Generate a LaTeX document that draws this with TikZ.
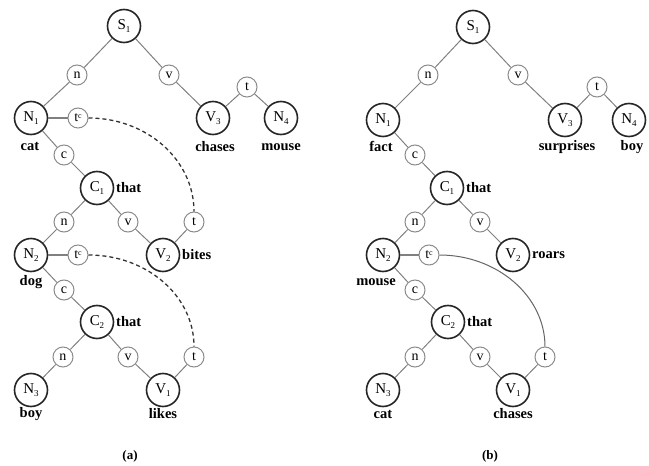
\documentclass[tikz,border=0pt]{standalone}
\usepackage{fontspec}
\setmainfont{Liberation Serif}
\newcommand{\nsub}[2]{#1\kern-0.3pt\raisebox{-0.45ex}{\fontsize{9}{9}\selectfont #2}}
\newcommand{\tcx}{t\raisebox{0.55ex}{\fontsize{8}{8}\selectfont c}}
\begin{document}
\begin{tikzpicture}[x=1pt,y=-1pt,
  big/.style={circle, draw=black!85, line width=1.6pt, minimum size=33pt, inner sep=0pt, font=\fontsize{15}{15}\selectfont},
  sm/.style={circle, draw=black!45, line width=1pt, minimum size=20pt, inner sep=0pt, font=\fontsize{14}{14}\selectfont},
  ed/.style={draw=black!50, line width=1pt},
  dbl/.style={draw=black!50, line width=1.5pt},
  dsh/.style={draw=black!80, line width=1.3pt, dash pattern=on 4pt off 3pt},
  word/.style={inner sep=0pt, font=\fontsize{14.5}{14.5}\selectfont\bfseries},
  captxt/.style={inner sep=0pt, font=\fontsize{13}{13}\selectfont\bfseries}]
\useasboundingbox (0,0) rectangle (649,466);
% ---------------- panel (a)
\node[big] (aS1) at (124,26) {\nsub{S}{1}};
\node[sm] (an1) at (77,75) {n};
\node[sm] (av1) at (169,75) {v};
\node[big] (aN1) at (31,118) {\nsub{N}{1}};
\node[sm] (atc1) at (78,118) {\tcx};
\node[big] (aV3) at (213,118) {\nsub{V}{3}};
\node[sm] (at0) at (247,87) {t};
\node[big] (aN4) at (281,118) {\nsub{N}{4}};
\node[sm] (ac1) at (64,155) {c};
\node[big] (aC1) at (97,188) {\nsub{C}{1}};
\node[word, anchor=west] (athat1) at (116,188) {that};
\node[sm] (an2) at (64,222) {n};
\node[sm] (av2) at (128,222) {v};
\node[sm] (at2) at (194,222) {t};
\node[big] (aN2) at (31,255) {\nsub{N}{2}};
\node[sm] (atc2) at (78,255) {\tcx};
\node[big] (aV2) at (163,255) {\nsub{V}{2}};
\node[word, anchor=west] (abites) at (182,255) {bites};
\node[sm] (ac2) at (64,290) {c};
\node[big] (aC2) at (97,322) {\nsub{C}{2}};
\node[word, anchor=west] (athat2) at (116,322) {that};
\node[sm] (an3) at (63,357) {n};
\node[sm] (av3) at (128,357) {v};
\node[sm] (at3) at (194,357) {t};
\node[big] (aN3) at (31,390) {\nsub{N}{3}};
\node[big] (aV1) at (163,390) {\nsub{V}{1}};
\node[word] (acat) at (30,146) {cat};
\node[word] (achases) at (215,147) {chases};
\node[word] (amouse) at (281,147) {mouse};
\node[word] (adog) at (31,282) {dog};
\node[word] (aboy) at (31,414) {boy};
\node[word] (alikes) at (163,414) {likes};
\node[captxt] (acap) at (130,456) {(a)};
\draw[ed] (aS1) -- (an1) -- (aN1);
\draw[ed] (aS1) -- (av1) -- (aV3);
\draw[ed] (aV3) -- (at0) -- (aN4);
\draw[dbl] (aN1) -- (atc1);
\draw[ed] (aN1) -- (ac1) -- (aC1);
\draw[ed] (aC1) -- (an2) -- (aN2);
\draw[ed] (aC1) -- (av2) -- (aV2);
\draw[ed] (aV2) -- (at2);
\draw[dbl] (aN2) -- (atc2);
\draw[ed] (aN2) -- (ac2) -- (aC2);
\draw[ed] (aC2) -- (an3) -- (aN3);
\draw[ed] (aC2) -- (av3) -- (aV1);
\draw[ed] (aV1) -- (at3);
\draw[dsh] (atc1.east) .. controls (147,118) and (194,160) .. (at2.north);
\draw[dsh] (atc2.east) .. controls (147,255) and (194,296) .. (at3.north);
% ---------------- panel (b)
\node[big] (bS1) at (473,27) {\nsub{S}{1}};
\node[sm] (bn1) at (428,75) {n};
\node[sm] (bv1) at (518,75) {v};
\node[big] (bN1) at (383,120) {\nsub{N}{1}};
\node[big] (bV3) at (565,120) {\nsub{V}{3}};
\node[sm] (bt0) at (597,87) {t};
\node[big] (bN4) at (629,120) {\nsub{N}{4}};
\node[sm] (bc1) at (415,155) {c};
\node[big] (bC1) at (447,188) {\nsub{C}{1}};
\node[word, anchor=west] (bthat1) at (466,188) {that};
\node[sm] (bn2) at (415,222) {n};
\node[sm] (bv2) at (480,222) {v};
\node[big] (bN2) at (383,255) {\nsub{N}{2}};
\node[sm] (btc2) at (429,255) {\tcx};
\node[big] (bV2) at (513,255) {\nsub{V}{2}};
\node[word, anchor=west] (broars) at (532,255) {roars};
\node[sm] (bc2) at (415,290) {c};
\node[big] (bC2) at (448,322) {\nsub{C}{2}};
\node[word, anchor=west] (bthat2) at (467,322) {that};
\node[sm] (bn3) at (415,357) {n};
\node[sm] (bv3) at (480,357) {v};
\node[sm] (bt3) at (545,357) {t};
\node[big] (bN3) at (383,390) {\nsub{N}{3}};
\node[big] (bV1) at (513,390) {\nsub{V}{1}};
\node[word] (bfact) at (381,146) {fact};
\node[word] (bsurp) at (567,147) {surprises};
\node[word] (bboy1) at (632,147) {boy};
\node[word] (bmouse) at (376,282) {mouse};
\node[word] (bcat) at (383,414) {cat};
\node[word] (bchases) at (513,414) {chases};
\node[captxt] (bcap) at (490,456) {(b)};
\draw[ed] (bS1) -- (bn1) -- (bN1);
\draw[ed] (bS1) -- (bv1) -- (bV3);
\draw[ed] (bV3) -- (bt0) -- (bN4);
\draw[ed] (bN1) -- (bc1) -- (bC1);
\draw[ed] (bC1) -- (bn2) -- (bN2);
\draw[ed] (bC1) -- (bv2) -- (bV2);
\draw[dbl] (bN2) -- (btc2);
\draw[ed] (bN2) -- (bc2) -- (bC2);
\draw[ed] (bC2) -- (bn3) -- (bN3);
\draw[ed] (bC2) -- (bv3) -- (bV1);
\draw[ed] (bV1) -- (bt3);
\draw[draw=black!60, line width=1pt] (btc2.east) .. controls (497,255) and (545,296) .. (bt3.north);
\end{tikzpicture}
\end{document}
